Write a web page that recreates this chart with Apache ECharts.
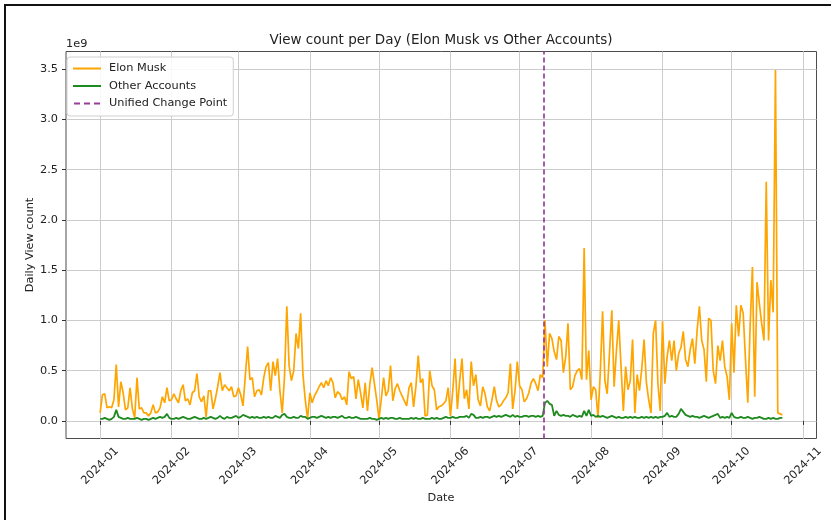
<!DOCTYPE html>
<html>
<head>
<meta charset="utf-8">
<script src="https://cdn.jsdelivr.net/npm/echarts@6/dist/echarts.min.js"></script>
<style>
    html, body {margin: 0; padding: 0; background: #fff;}
    #main {width: 831px; height: 520px;}
</style>
</head>
<body>
<div id="main"></div>
<script>
// daily view count, in units of 1e9, starting 2024-01-01
var muskJan = [0.08,0.26,0.27,0.13,0.14,0.13,0.21,0.56,0.14,0.39,0.28,0.11,0.13,0.33,0.12,0.03,0.43,0.12,0.13,0.08,0.08,0.05,0.08,0.16,0.08,0.09,0.13,0.24,0.18,0.33,0.20];
var muskFeb = [0.21,0.27,0.22,0.18,0.30,0.36,0.20,0.22,0.16,0.28,0.30,0.47,0.24,0.19,0.25,0.04,0.30,0.30,0.12,0.22,0.34,0.48,0.30,0.36,0.33,0.30,0.34,0.24,0.25];
var muskMar = [0.33,0.26,0.15,0.45,0.74,0.41,0.43,0.24,0.30,0.31,0.26,0.43,0.54,0.58,0.30,0.59,0.45,0.62,0.30,0.08,0.44,1.14,0.55,0.40,0.50,0.87,0.72,1.07,0.46,0.21,0.02];
var muskApr = [0.28,0.18,0.25,0.29,0.34,0.38,0.33,0.40,0.35,0.43,0.38,0.23,0.29,0.27,0.21,0.24,0.16,0.49,0.42,0.44,0.22,0.41,0.28,0.13,0.38,0.10,0.36,0.53,0.37,0.21];
var muskMay = [0.02,0.22,0.43,0.25,0.30,0.55,0.20,0.32,0.37,0.30,0.25,0.20,0.15,0.33,0.38,0.14,0.34,0.65,0.38,0.42,0.05,0.06,0.50,0.35,0.31,0.11,0.14,0.15,0.17,0.20,0.33];
var muskJun = [0.05,0.30,0.62,0.12,0.40,0.62,0.22,0.31,0.12,0.59,0.35,0.46,0.21,0.15,0.34,0.27,0.14,0.10,0.21,0.34,0.20,0.14,0.16,0.20,0.23,0.28,0.57,0.12,0.30,0.59];
var muskJul = [0.35,0.31,0.19,0.22,0.28,0.38,0.42,0.37,0.30,0.46,0.43,1.00,0.54,0.87,0.82,0.69,0.61,0.84,0.80,0.48,0.64,0.97,0.31,0.34,0.45,0.50,0.52,0.41,1.72,0.41,0.70];
var muskAug = [0.21,0.34,0.31,0.03,0.48,1.09,0.40,0.27,0.68,1.10,0.34,0.70,1.00,0.54,0.10,0.54,0.31,0.40,0.81,0.08,0.46,0.30,0.52,0.81,0.38,0.21,0.08,0.87,1.00,0.37,0.10];
var muskSep = [0.99,0.37,0.64,0.80,0.60,0.80,0.50,0.67,0.73,0.89,0.61,0.54,0.71,0.82,0.57,0.90,1.14,0.80,0.71,0.39,1.02,1.00,0.50,0.37,0.75,0.60,0.80,0.54,0.44,0.21];
var muskOct = [0.97,0.48,1.15,0.84,1.15,1.07,0.61,0.18,0.94,1.53,0.24,1.38,1.17,0.97,0.80,2.38,0.80,1.40,1.08,3.49,0.08,0.07,0.06];

var otherJan = [0.02,0.02,0.03,0.02,0.01,0.02,0.04,0.11,0.04,0.03,0.02,0.02,0.03,0.02,0.02,0.02,0.03,0.02,0.01,0.02,0.02,0.01,0.02,0.03,0.02,0.03,0.04,0.03,0.04,0.07,0.03];
var otherFeb = [0.02,0.02,0.03,0.02,0.03,0.04,0.03,0.02,0.02,0.03,0.04,0.03,0.02,0.02,0.03,0.02,0.03,0.04,0.03,0.02,0.03,0.05,0.03,0.02,0.04,0.03,0.03,0.04,0.05];
var otherMar = [0.03,0.04,0.06,0.05,0.04,0.03,0.04,0.03,0.04,0.03,0.03,0.04,0.03,0.04,0.03,0.03,0.05,0.04,0.03,0.06,0.07,0.04,0.03,0.03,0.04,0.03,0.03,0.05,0.04,0.04,0.02];
var otherApr = [0.03,0.04,0.04,0.03,0.04,0.05,0.04,0.03,0.04,0.03,0.04,0.04,0.03,0.04,0.05,0.03,0.03,0.04,0.03,0.03,0.04,0.03,0.02,0.02,0.02,0.02,0.03,0.02,0.02,0.01];
var otherMay = [0.02,0.03,0.02,0.03,0.02,0.03,0.03,0.02,0.02,0.03,0.02,0.02,0.02,0.02,0.03,0.02,0.03,0.02,0.02,0.03,0.02,0.02,0.02,0.03,0.02,0.03,0.02,0.02,0.03,0.04,0.03];
var otherJun = [0.03,0.04,0.03,0.03,0.04,0.04,0.04,0.05,0.03,0.07,0.06,0.03,0.03,0.04,0.03,0.04,0.04,0.03,0.04,0.05,0.04,0.05,0.04,0.05,0.06,0.05,0.04,0.06,0.04,0.05];
var otherJul = [0.04,0.04,0.05,0.05,0.04,0.05,0.05,0.04,0.05,0.04,0.05,0.18,0.20,0.17,0.16,0.05,0.10,0.06,0.05,0.06,0.05,0.05,0.04,0.06,0.05,0.04,0.05,0.04,0.10,0.05,0.11];
var otherAug = [0.05,0.06,0.04,0.05,0.04,0.05,0.04,0.03,0.04,0.05,0.04,0.03,0.04,0.03,0.03,0.04,0.03,0.04,0.03,0.04,0.03,0.03,0.04,0.03,0.04,0.03,0.04,0.03,0.04,0.03,0.04];
var otherSep = [0.04,0.05,0.08,0.04,0.05,0.04,0.04,0.07,0.12,0.09,0.06,0.05,0.04,0.05,0.04,0.04,0.03,0.04,0.05,0.04,0.03,0.04,0.05,0.06,0.07,0.03,0.04,0.03,0.04,0.03];
var otherOct = [0.08,0.04,0.03,0.03,0.04,0.03,0.03,0.04,0.03,0.02,0.03,0.03,0.04,0.03,0.02,0.02,0.03,0.02,0.03,0.02,0.02,0.03,0.03];

var monthTicks = ['2024-01-01','2024-02-01','2024-03-01','2024-04-01','2024-05-01','2024-06-01',
    '2024-07-01','2024-08-01','2024-09-01','2024-10-01','2024-11-01'];
var yTicks = [0, 0.5, 1, 1.5, 2, 2.5, 3, 3.5];
var changePoint = '2024-07-11 12:00';

var musk = [].concat(muskJan, muskFeb, muskMar, muskApr, muskMay, muskJun, muskJul, muskAug, muskSep, muskOct);
var other = [].concat(otherJan, otherFeb, otherMar, otherApr, otherMay, otherJun, otherJul, otherAug, otherSep, otherOct);

var DAY = 86400000;
var muskData = [], otherData = [];
for (var i = 0; i < musk.length; i++) {
    var t = new Date(2024, 0, 1 + i).getTime();
    muskData.push([t, musk[i]]);
    otherData.push([t, other[i]]);
}
// matplotlib style 5% margins
var tFirst = muskData[0][0], tLast = muskData[muskData.length - 1][0];
var xPad = (tLast - tFirst) * 0.05;
var yPad = 3.5 * 0.05;

var font = 'DejaVu Sans';
// legend icons: plain line / dashed line, no symbol
var iconSolid = 'path://M0,0H28V2H0Z';
var iconDash = 'path://M0,0H6V2H0Z M10,0H16V2H10Z M20,0H26V2H20Z';

var main = document.getElementById('main');
var myChart = echarts.init(main, null, {renderer: 'canvas'});

var option = {
    animation: false,
    backgroundColor: '#fff',
    grid: {
        left: 66, right: 14.5, top: 51.5, bottom: 81.5,
        show: true,
        borderColor: '#4d4d4d',
        borderWidth: 1,
        containLabel: false
    },
    legend: {
        orient: 'vertical',
        left: 67, top: 57,
        padding: [5, 6, 6, 6],
        itemWidth: 28,
        itemHeight: 2,
        itemGap: 4.5,
        backgroundColor: 'rgba(255,255,255,0.85)',
        borderColor: '#d0d0d0',
        borderWidth: 1,
        borderRadius: 3,
        textStyle: {fontFamily: font, fontSize: 11.3, color: '#222', padding: [0, 0, 0, 3], lineHeight: 13},
        data: [
            {name: 'Elon Musk', icon: iconSolid},
            {name: 'Other Accounts', icon: iconSolid},
            {name: 'Unified Change Point', icon: iconDash}
        ]
    },
    xAxis: {
        type: 'time',
        min: tFirst - xPad,
        max: tLast + xPad,
        splitNumber: 10,
        minInterval: 28 * DAY,
        maxInterval: 31 * DAY,
        axisLine: {show: false},
        axisTick: {show: true, length: 4, customValues: monthTicks, lineStyle: {color: '#333'}},
        axisLabel: {
            customValues: monthTicks,
            formatter: '{yyyy}-{MM}',
            rotate: 45,
            align: 'center',
            verticalAlign: 'middle',
            margin: 27.5,
            fontFamily: font,
            fontSize: 11.3,
            color: '#222'
        },
        splitLine: {show: true, lineStyle: {color: '#cccccc', width: 1}}
    },
    yAxis: {
        type: 'value',
        min: -yPad,
        max: 3.5 + yPad,
        minInterval: 0.5,
        maxInterval: 0.5,
        axisLine: {show: false},
        axisTick: {show: true, length: 4, customValues: yTicks, lineStyle: {color: '#333'}},
        axisLabel: {
            customValues: yTicks,
            formatter: function (v) { return v.toFixed(1); },
            margin: 8,
            fontFamily: font,
            fontSize: 11.3,
            color: '#222'
        },
        splitLine: {show: true, lineStyle: {color: '#cccccc', width: 1}}
    },
    graphic: [
        {type: 'rect', shape: {x: 5, y: 5, width: 850, height: 530}, style: {fill: 'none', stroke: '#111', lineWidth: 2}},
        {type: 'text', x: 441, y: 40, style: {text: 'View count per Day (Elon Musk vs Other Accounts)', font: '13.5px "DejaVu Sans"', fill: '#222', textAlign: 'center', textVerticalAlign: 'middle'}},
        {type: 'text', x: 66, y: 44, style: {text: '1e9', font: '11.3px "DejaVu Sans"', fill: '#222', textAlign: 'left', textVerticalAlign: 'middle'}},
        {type: 'text', x: 441, y: 498, style: {text: 'Date', font: '11.3px "DejaVu Sans"', fill: '#222', textAlign: 'center', textVerticalAlign: 'middle'}},
        {type: 'text', x: 30, y: 245, rotation: Math.PI / 2, style: {text: 'Daily View count', font: '11.3px "DejaVu Sans"', fill: '#222', textAlign: 'center', textVerticalAlign: 'middle'}}
    ],
    series: [
        {
            name: 'Elon Musk',
            type: 'line',
            symbol: 'none',
            color: '#ffa500',
            lineStyle: {color: '#ffa500', width: 1.7},
            data: muskData
        },
        {
            name: 'Other Accounts',
            type: 'line',
            symbol: 'none',
            color: '#1f8a1f',
            lineStyle: {color: '#1f8a1f', width: 1.8},
            data: otherData
        },
        {
            name: 'Unified Change Point',
            type: 'line',
            symbol: 'none',
            color: '#9a3c9a',
            lineStyle: {color: '#9a3c9a', width: 1.7, type: [5, 3]},
            data: [],
            markLine: {
                silent: true,
                symbol: 'none',
                label: {show: false},
                lineStyle: {color: '#9a3c9a', width: 1.7, type: [5, 3]},
                data: [{xAxis: changePoint}]
            }
        }
    ]
};
myChart.setOption(option);
window.onresize = function () {
    myChart.resize();
};
</script>
</body>
</html>
